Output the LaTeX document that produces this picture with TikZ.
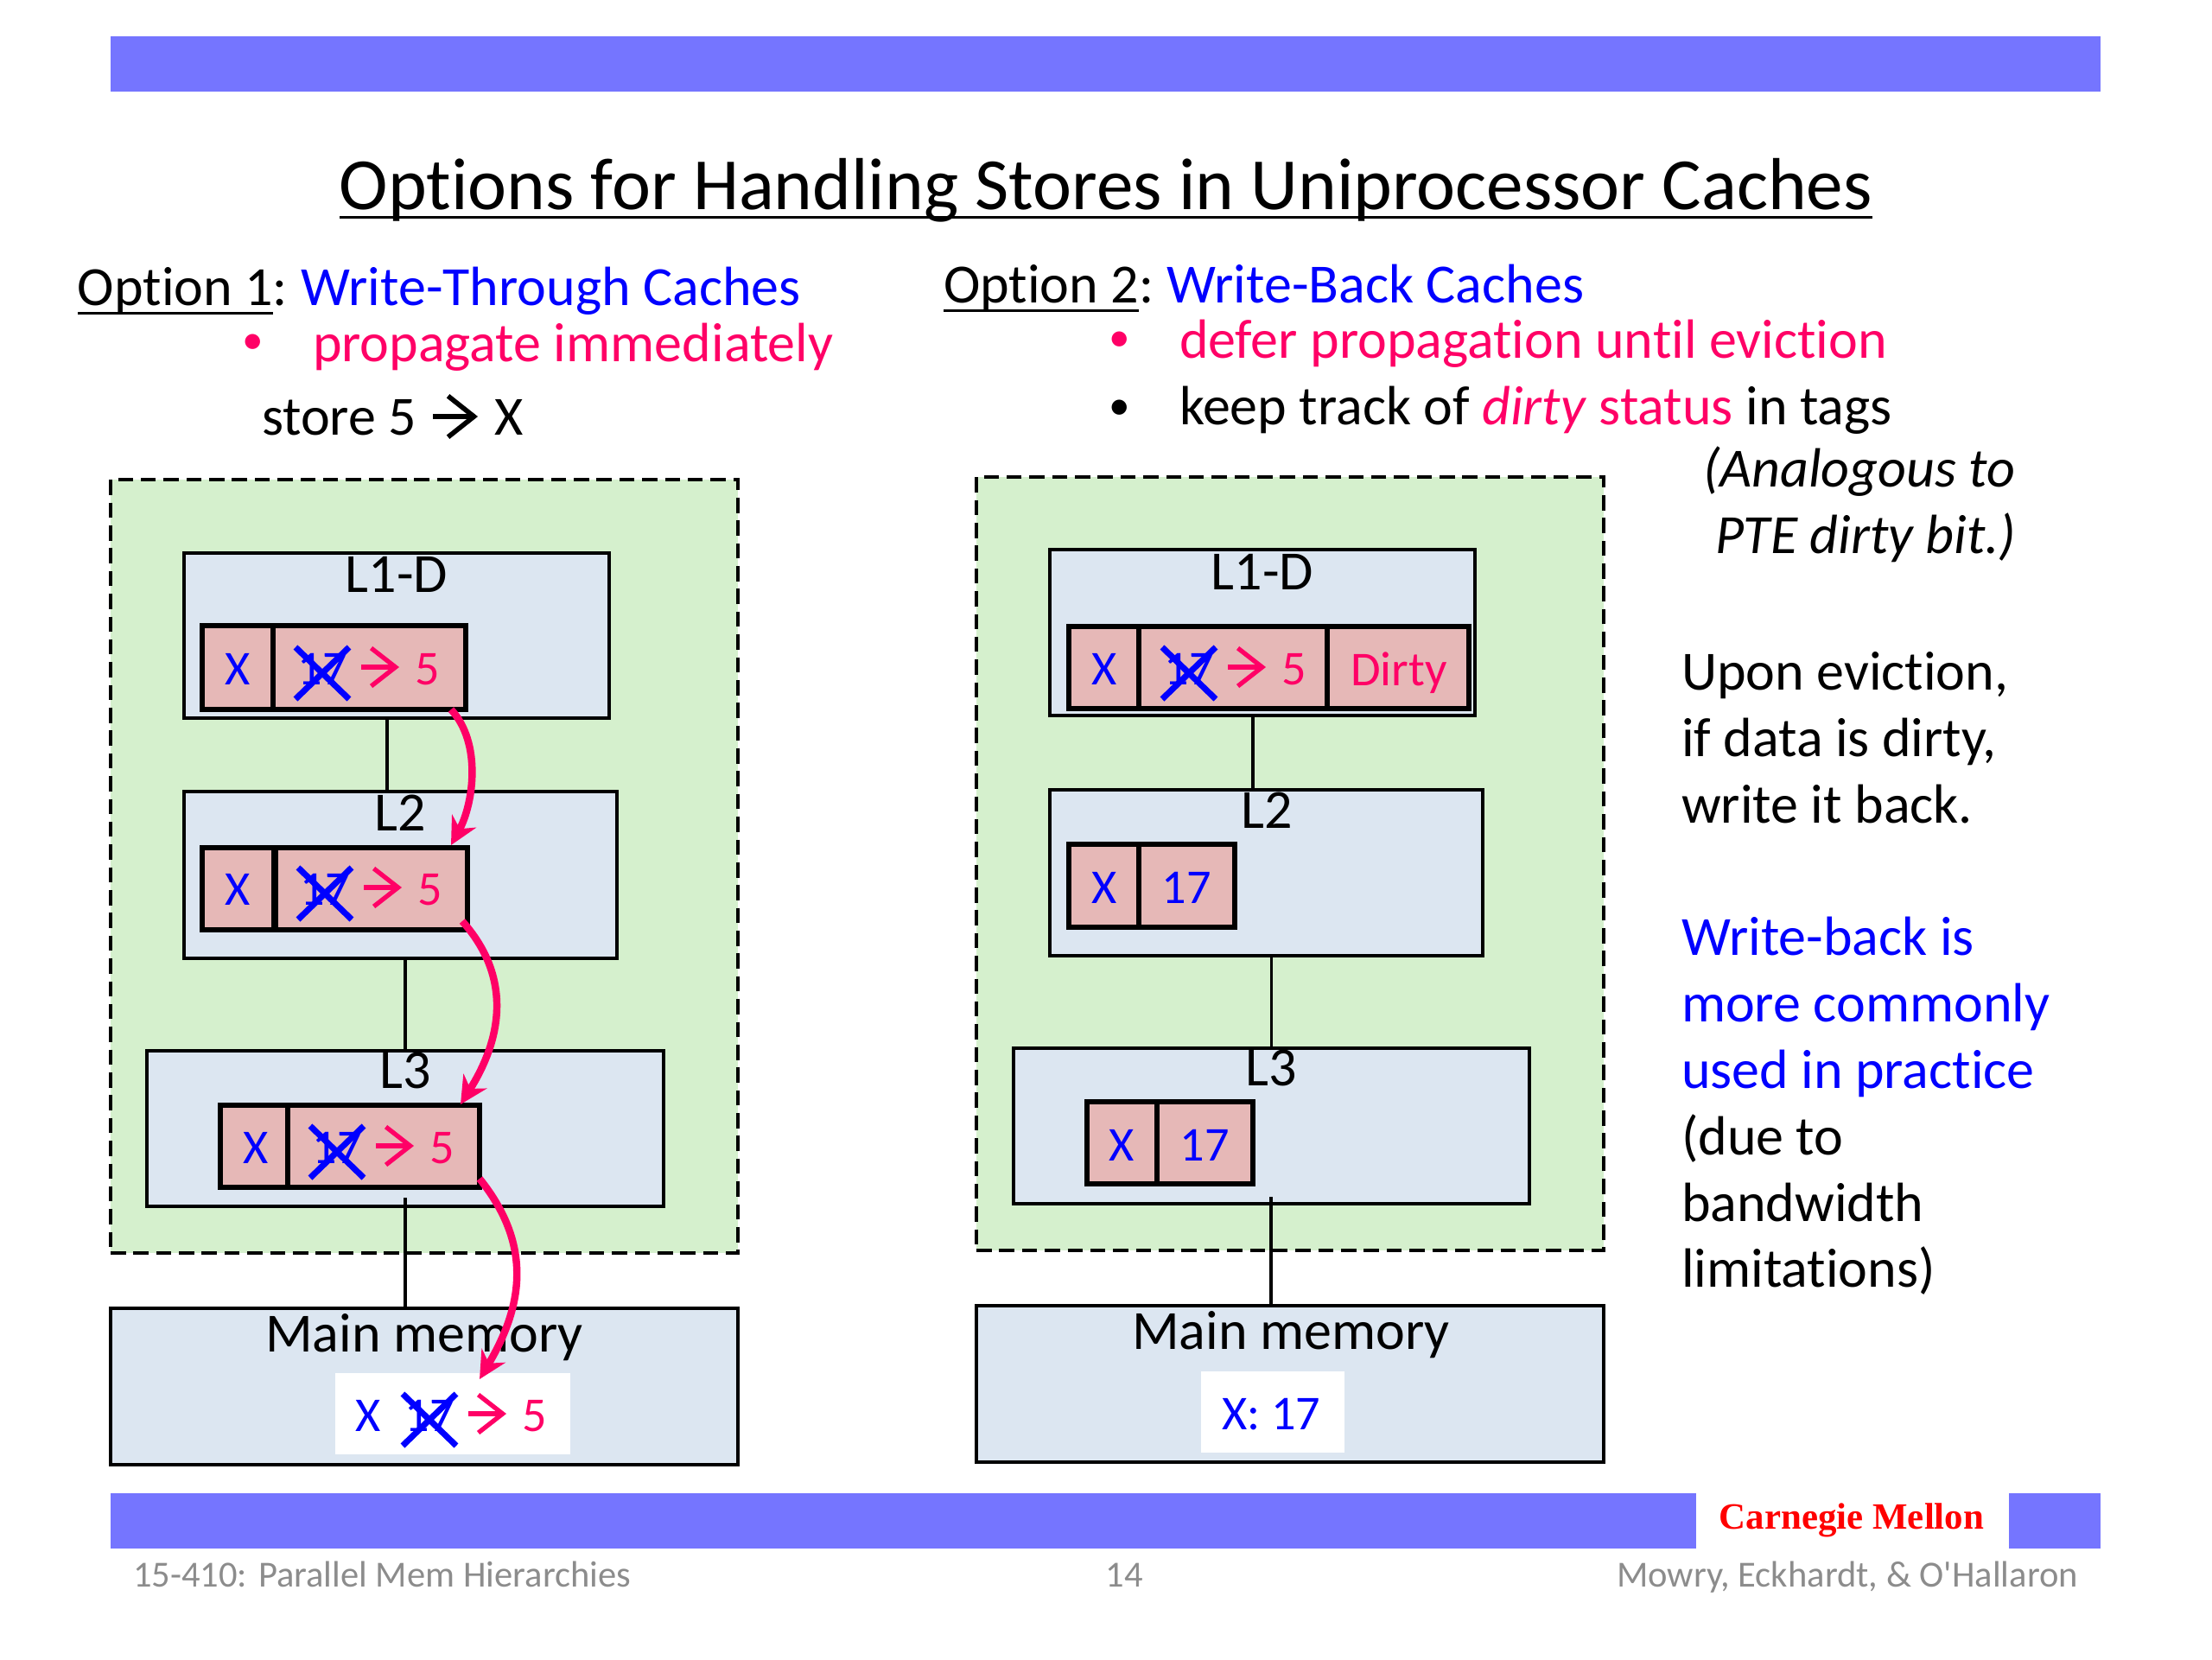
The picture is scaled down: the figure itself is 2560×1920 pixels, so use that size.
\documentclass[tikz,border=0pt]{standalone}
\usepackage{fontspec}
\setmainfont[Ligatures=NoCommon]{Carlito}
\newfontfamily\cmufont{Liberation Serif}
\newfontfamily\footfont[Ligatures=NoCommon]{Carlito}
\usetikzlibrary{arrows.meta,shapes.misc}
\definecolor{barblue}{HTML}{7575FF}
\definecolor{greenbg}{HTML}{D5F0CD}
\definecolor{cachebg}{HTML}{DCE6F1}
\definecolor{recbg}{HTML}{E6B8B7}
\definecolor{hotpink}{HTML}{FF0066}
\definecolor{footgray}{HTML}{8C8C8C}
\newcommand\fs[1]{\fontsize{#1pt}{#1pt}\selectfont}
\newcommand\ulx[1]{\setbox0\hbox{#1}\rlap{\rule[-3.2pt]{\wd0}{0.8pt}}\box0\relax}
\tikzset{
  x=0.01cm,y=-0.01cm,
  bar/.style={fill=barblue,draw=none,inner sep=0pt,outer sep=0pt},
  greenarea/.style={fill=greenbg,draw=black,line width=1pt,dash pattern=on 5pt off 2.5pt,inner sep=0pt,outer sep=0pt},
  cachebox/.style={fill=cachebg,draw=black,line width=0.9pt,inner sep=0pt,outer sep=0pt},
  whitebox/.style={fill=white,draw=none,inner sep=0pt,outer sep=0pt},
  recbox/.style={fill=recbg,draw=black,line width=1.5pt,inner sep=0pt,outer sep=0pt},
  link/.style={draw=black,line width=0.9pt},
  divider/.style={draw=black,line width=1.5pt},
  body/.style={inner sep=0pt,outer sep=0pt,anchor=base west,font=\fs{18.2}},
  dot/.style={inner sep=0pt,outer sep=0pt,anchor=base west,font=\fs{14}},
  label/.style={inner sep=0pt,outer sep=0pt,anchor=base,font=\fs{18.2}},
  val/.style={inner sep=0pt,outer sep=0pt,text depth=0pt,font=\fs{16}},
  crossmark/.style={cross out,draw=blue,line width=2pt,minimum width=62*0.01cm,minimum height=60*0.01cm,inner sep=0pt,outer sep=0pt},
  smallarrow/.style={draw=hotpink,line width=1.5pt,-{Straight Barb[length=8pt,width=12.5pt]}},
  storearrow/.style={draw=black,line width=1.6pt,-{Straight Barb[length=8.5pt,width=13.5pt]}},
  flow/.style={draw=hotpink,line width=2.4pt,-{Stealth[length=9pt,width=9pt]}},
  foot/.style={inner sep=0pt,outer sep=0pt,font=\footfont\fs{12.1},text=footgray},
}
\newcommand\boxat[6]{%
  \pgfmathsetmacro\bw{(#5-#3)*0.01}\pgfmathsetmacro\bh{(#6-#4)*0.01}%
  \node[#2,minimum width=\bw cm,minimum height=\bh cm] (#1) at ({(#3+#5)/2},{(#4+#6)/2}) {};}
\newcommand\crossed[3]{%
  \node[val,text=blue] (#1v) at (#2,#3) {17};
  \node[crossmark] (#1c) at (#2,#3+5) {};
  \coordinate (#1a) at (#2+45,#3-2);
  \coordinate (#1b) at (#2+89,#3-2);
  \draw[smallarrow] (#1a) -- (#1b);
  \node[val,text=hotpink] (#1f) at (#2+122,#3) {5};}
\begin{document}
\begin{tikzpicture}
\useasboundingbox (0,0) rectangle (2560,1920);
% bars
\boxat{topbar}{bar}{128}{42}{2431}{106}
\boxat{botbarL}{bar}{128}{1728}{1963}{1792}
\boxat{botbarR}{bar}{2325}{1728}{2431}{1792}
% title and headings
\node[inner sep=0pt,anchor=base,font=\fs{24.24}] (title) at (1280,242) {\ulx{Options for Handling Stores in Uniprocessor Caches}};
\node[body] (opt1) at (90,353) {\ulx{Option 1}:\kern0.2pt\ \textcolor{blue}{Write-Through Caches}};
\node[dot,text=hotpink] (b1) at (280,409) {•};
\node[body,text=hotpink] (t1) at (362,418) {propagate immediately};
\node[body] (st) at (303,503) {store 5};
\node[body] (stx) at (572,503) {X};
\coordinate (sta) at (501,482);
\coordinate (stb) at (553,482);
\draw[storearrow] (sta) -- (stb);
\node[body] (opt2) at (1092,350) {\ulx{Option 2}:\kern0.2pt\ \textcolor{blue}{Write-Back Caches}};
\node[dot,text=hotpink] (b2) at (1283,406) {•};
\node[body,text=hotpink] (t2) at (1365,414) {defer propagation until eviction};
\node[dot] (b3) at (1283,485) {•};
\node[body] (t3) at (1365,491) {keep track of \textcolor{hotpink}{\textit{dirty} status} in tags};
\node[body] (n1) at (1971,563) {\textit{(Analogous to}};
\node[body] (n2) at (1985,640) {\textit{PTE dirty bit.)}};
\node[body] (u1) at (1946,798) {Upon eviction,};
\node[body] (u2) at (1946,875) {if data is dirty,};
\node[body] (u3) at (1946,952) {write it back.};
\node[body,text=blue] (w1) at (1946,1105) {Write-back is};
\node[body,text=blue] (w2) at (1946,1182) {more commonly};
\node[body,text=blue] (w3) at (1946,1259) {used in practice};
\node[body] (w4) at (1946,1336) {(due to};
\node[body] (w5) at (1946,1413) {bandwidth};
\node[body] (w6) at (1946,1489) {limitations)};
% green areas
\boxat{gl}{greenarea}{128}{555}{854}{1450}
\boxat{gr}{greenarea}{1130}{552}{1856}{1447}
% left caches
\boxat{la}{cachebox}{213}{640}{705}{831}
\boxat{lb}{cachebox}{213}{916}{714}{1109}
\boxat{lc}{cachebox}{170}{1216}{768}{1396}
\boxat{lm}{cachebox}{128}{1514}{854}{1695}
\coordinate (lj1) at (448,831);
\draw[link] (lj1) -- (lj1 |- lb.north);
\draw[link] (lc.north) -- (lc.north |- lb.south);
\coordinate (lj3) at (469,1386);
\draw[link] (lj3) -- (lj3 |- lm.north);
\boxat{lw}{whitebox}{388}{1589}{660}{1683}
% right caches
\boxat{ra}{cachebox}{1215}{636}{1707}{828}
\boxat{rb}{cachebox}{1215}{914}{1716}{1106}
\boxat{rc}{cachebox}{1173}{1213}{1770}{1393}
\boxat{rm}{cachebox}{1130}{1511}{1856}{1692}
\coordinate (rj1) at (1450,828);
\draw[link] (rj1) -- (rj1 |- rb.north);
\draw[link] (rc.north) -- (rc.north |- rb.south);
\coordinate (rj3) at (1471,1385);
\draw[link] (rj3) -- (rj3 |- rm.north);
\boxat{rw}{whitebox}{1390}{1587}{1556}{1681}
% records
\boxat{lra}{recbox}{234}{724}{539}{821}
\draw[divider] (316,724) -- (316,821);
\boxat{lrb}{recbox}{234}{981}{541}{1076}
\draw[divider,line width=2pt] (318,981) -- (318,1076);
\boxat{lrc}{recbox}{255}{1279}{555}{1374}
\draw[divider] (333,1279) -- (333,1374);
\boxat{rra}{recbox}{1237}{725}{1700}{820}
\draw[divider] (1318,725) -- (1318,820);
\draw[divider] (1536,725) -- (1536,820);
\boxat{rrb}{recbox}{1237}{977}{1429}{1073}
\draw[divider] (1318,977) -- (1318,1073);
\boxat{rrc}{recbox}{1258}{1275}{1450}{1370}
\draw[divider] (1339,1275) -- (1339,1370);
% cache labels
\node[label] (lla) at (459,685) {L1-D};
\node[label] (llb) at (463,961) {L2};
\node[label] (llc) at (469,1259) {L3};
\node[label] (llm) at (491,1564) {Main memory};
\node[label] (rla) at (1461,682) {L1-D};
\node[label] (rlb) at (1466,958) {L2};
\node[label] (rlc) at (1471,1256) {L3};
\node[label] (rlm) at (1494,1561) {Main memory};
% values
\node[val,text=blue] (xla) at (275,774) {X};
\crossed{ea}{373}{774}
\node[val,text=blue] (xlb) at (275,1029) {X};
\crossed{eb}{376}{1029}
\node[val,text=blue] (xlc) at (296,1328) {X};
\crossed{ec}{390}{1328}
\node[val,text=blue] (xlm) at (426,1638) {X};
\crossed{em}{497}{1638}
\node[val,text=blue] (xra) at (1278,774) {X};
\crossed{er}{1376}{774}
\node[val,text=hotpink] (dirty) at (1619,774) {Dirty};
\node[val,text=blue] (xrb) at (1278,1027) {X};
\node[val,text=blue] (vrb) at (1373,1027) {17};
\node[val,text=blue] (xrc) at (1298,1325) {X};
\node[val,text=blue] (vrc) at (1394,1325) {17};
\node[val,text=blue] (vrm) at (1471,1636) {X: 17};
% flows
\coordinate (p0) at (522,821);
\coordinate (p1) at (522,978);
\coordinate (p2) at (535,1066);
\coordinate (p3) at (533,1278);
\coordinate (p4) at (555,1364);
\coordinate (p5) at (555,1596);
\draw[flow] (p0) .. controls (558,860) and (548,930) .. (p1);
\draw[flow] (p2) .. controls (592,1130) and (582,1200) .. (p3);
\draw[flow] (p4) .. controls (616,1440) and (606,1510) .. (p5);
% footer
\node[inner sep=0pt,anchor=base,font=\cmufont\bfseries\fs{12.2},text=red] (cmu) at (2143,1769) {Carnegie Mellon};
\node[foot,anchor=base west] (f1) at (154,1836) {15-410: Parallel Mem Hierarchies};
\node[foot,anchor=base] (f2) at (1301,1836) {14};
\node[foot,anchor=base east] (f3) at (2405,1836) {Mowry, Eckhardt, \& O'Hallaron};
\end{tikzpicture}
\end{document}
